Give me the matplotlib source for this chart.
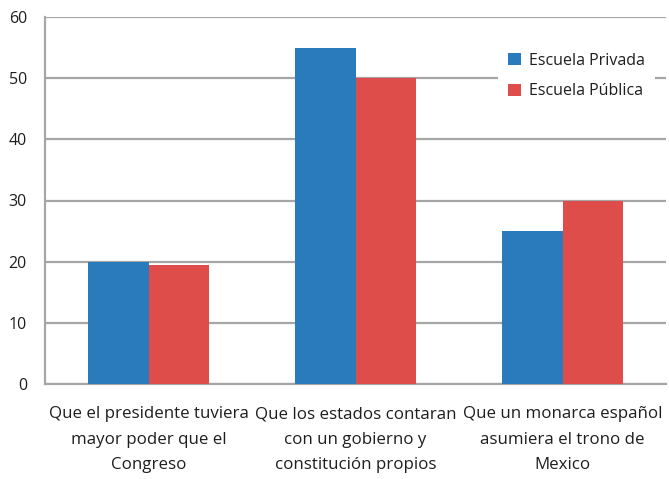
import matplotlib.pyplot as plt
import numpy as np

categories = [
    "Que el presidente tuviera\nmayor poder que el\nCongreso",
    "Que los estados contaran\ncon un gobierno y\nconstitución propios",
    "Que un monarca español\nasumiera el trono de\nMexico",
]
series_names = ["Escuela Privada", "Escuela Pública"]
privada = [20, 55, 25]
publica = [19.5, 50, 30]
yticks = [0, 10, 20, 30, 40, 50, 60]

plt.rcParams['font.family'] = ['Open Sans', 'DejaVu Sans']

fig = plt.figure(figsize=(6.69, 4.79), dpi=100)
ax = fig.add_axes([45 / 669, 1 - 384 / 479, 621 / 669, 367 / 479])

x = np.arange(len(categories))
w = 0.29
ax.bar(x - w / 2, privada, w, color="#2a7bbb", label=series_names[0], zorder=3)
ax.bar(x + w / 2, publica, w, color="#df4d4b", label=series_names[1], zorder=3)

ax.set_xlim(-0.5, len(categories) - 0.5)
ax.set_ylim(0, 60)
ax.set_yticks(yticks)
ax.yaxis.grid(True, color="#a6a6a6", linewidth=1.6, zorder=0)
ax.set_axisbelow(True)
for s in ["top", "right"]:
    ax.spines[s].set_visible(False)
for s in ["left", "bottom"]:
    ax.spines[s].set_color("#a6a6a6")
    ax.spines[s].set_linewidth(1.6)
ax.tick_params(axis="y", length=0, pad=13, labelsize=11.5, labelcolor="#1e1e1e")
ax.tick_params(axis="x", length=0, pad=16, labelsize=12.2, labelcolor="#1e1e1e")
ax.set_xticks(x)
ax.set_xticklabels(categories, linespacing=1.8)

leg = ax.legend(loc="upper right", bbox_to_anchor=(0.995, 0.95), frameon=True,
                prop={"size": 11.5},
                handlelength=0.8, handleheight=0.8,
                handletextpad=0.55, labelspacing=0.9, borderpad=0.6)
leg.get_frame().set_facecolor("white")
leg.get_frame().set_edgecolor("none")
leg.get_frame().set_alpha(1)
for t in leg.get_texts():
    t.set_color("#1e1e1e")

fig.savefig("out.png", dpi=100, facecolor="white")
